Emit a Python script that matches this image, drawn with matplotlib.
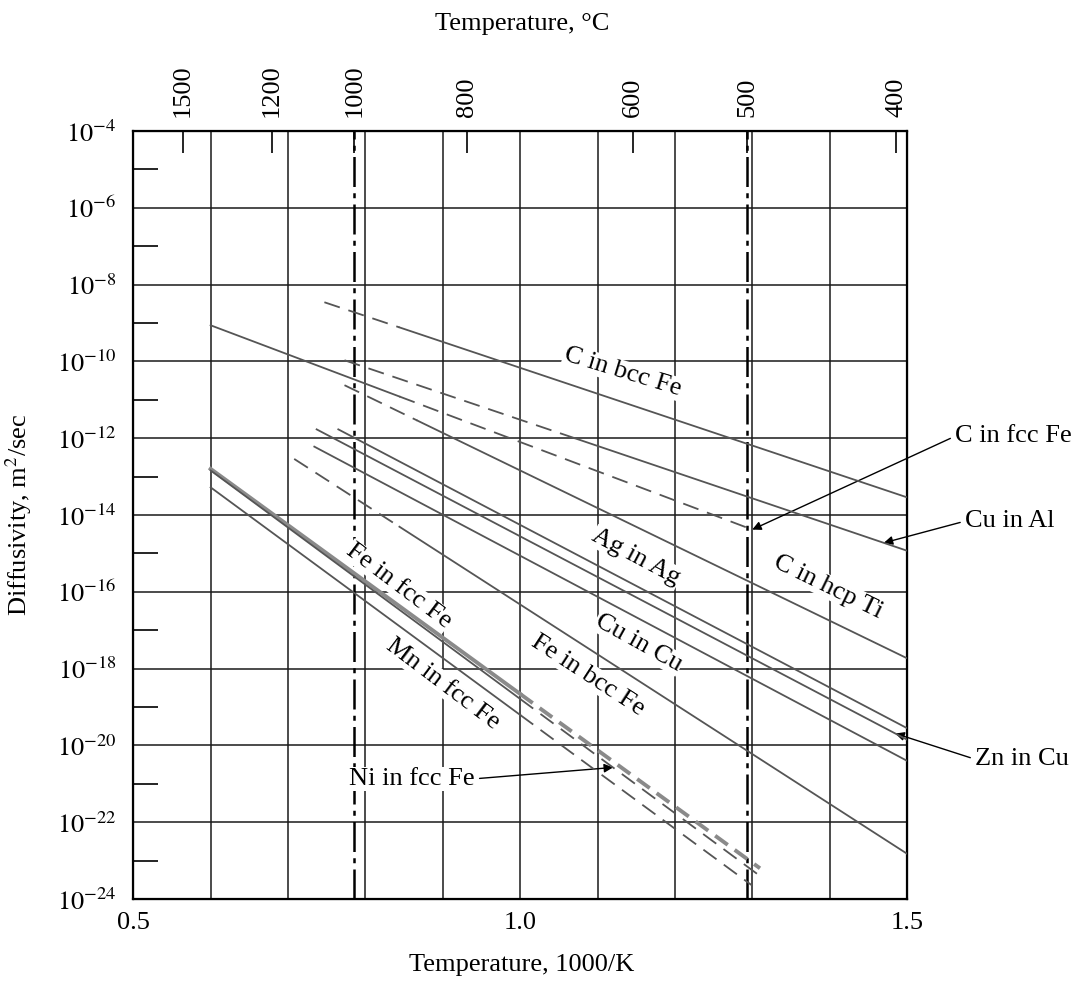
import numpy as np
import matplotlib
matplotlib.use("Agg")
import matplotlib.pyplot as plt
from matplotlib.ticker import NullFormatter

plt.rcParams['font.family'] = ['Liberation Serif', 'DejaVu Serif']
plt.rcParams['mathtext.fontset'] = 'stix'

# Arrhenius lines, log10(D [m^2/s]) against 1000/T
systems = ['C in bcc Fe', 'C in fcc Fe', 'Cu in Al', 'C in hcp Ti', 'Ag in Ag', 'Zn in Cu',
           'Cu in Cu', 'Fe in bcc Fe', 'Fe in fcc Fe', 'Ni in fcc Fe', 'Mn in fcc Fe']
x_start = [0.747, 0.600, 0.773, 0.773, 0.765, 0.737, 0.734, 0.708, 0.600, 0.600, 0.600]
log_d_start = [-8.46, -9.06, -9.97, -10.62, -11.77, -11.77, -12.22, -12.54, -12.80, -12.84, -13.28]
x_end = [1.50, 1.30, 1.50, 1.50, 1.50, 1.50, 1.50, 1.50, 1.31, 1.31, 1.30]
log_d_end = [-13.54, -14.38, -14.93, -17.73, -19.55, -19.85, -20.40, -22.82, -23.20, -23.40, -23.65]
# where the line switches between dashed and solid (phase limits)
x_switch = [0.844, 0.844, 1.071, 0.867, None, None, None, 0.844, 1.0, 1.0, 1.0]
dashed_first = [True, False, True, True, False, False, False, True, False, False, False]

# labels written along the lines
label_text = ['C in bcc Fe', 'C in hcp Ti', 'Ag in Ag', 'Cu in Cu', 'Fe in bcc Fe', 'Fe in fcc Fe', 'Mn in fcc Fe']
label_x = [1.132, 1.398, 1.150, 1.153, 1.088, 0.843, 0.900]
label_log_d = [-10.28, -15.87, -15.10, -17.33, -18.17, -15.84, -18.40]
label_rot = [-17, -26, -28, -29, -33, -37, -37]

# labels with arrows: (system, x of arrow tip, text x, text log10 D)
arrow_system = ['C in fcc Fe', 'Cu in Al', 'Zn in Cu', 'Ni in fcc Fe']
arrow_tip_x = [1.30, 1.47, 1.485, 1.12]
arrow_text_x = [1.562, 1.575, 1.588, 0.86]
arrow_text_log_d = [-11.95, -14.16, -20.36, -20.87]

celsius_ticks = [1500, 1200, 1000, 800, 600, 500, 400]
marked_celsius = [1000, 500]


def log_d_at(i, x):
    return np.interp(x, [x_start[i], x_end[i]], [log_d_start[i], log_d_end[i]])


fig = plt.figure(figsize=(10.87, 9.9), dpi=100)
ax = fig.add_axes([0.1226, 0.0919, 0.7118, 0.7758])
ax.set_yscale('log')
ax.set_xlim(0.5, 1.5)
ax.set_ylim(1e-24, 1e-4)

ax.set_xticks([0.5, 1.0, 1.5])
ax.set_xticklabels(['0.5', '1.0', '1.5'])
ax.set_xticks(np.arange(0.6, 1.45, 0.1), minor=True)
ax.set_yticks(10.0 ** np.arange(-24, -3, 2))
ax.set_yticklabels([r'$10^{%d}$' % e for e in range(-24, -3, 2)])
ax.set_yticks(10.0 ** np.arange(-23, -4, 2), minor=True)
ax.yaxis.set_minor_formatter(NullFormatter())

ax.set_axisbelow(True)
ax.grid(which='major', axis='y', color='#1a1a1a', lw=1.1)
ax.grid(which='both', axis='x', color='#1a1a1a', lw=1.1)
ax.tick_params(axis='x', which='both', length=0, pad=9, labelsize=19)
ax.tick_params(axis='y', which='major', length=0, pad=12, labelsize=19)
ax.tick_params(axis='y', which='minor', direction='in', length=18, width=1.2, left=True, right=False)
for s in ax.spines.values():
    s.set_linewidth(1.6)

for t in marked_celsius:
    ax.axvline(1000.0 / (t + 273), color='k', lw=1.8, linestyle=(0, (12, 2.5, 2, 2.5)), zorder=1.5)

for i, name in enumerate(systems):
    thick = name == 'Fe in fcc Fe'
    lw = 2.8 if thick else 1.3
    color = '#8a8a8a' if thick else '#555555'
    dash = (0, (4, 2.2)) if thick else (0, (9, 5))
    if x_switch[i] is None:
        pieces = [([x_start[i], x_end[i]], False)]
    else:
        pieces = [([x_start[i], x_switch[i]], dashed_first[i]),
                  ([x_switch[i], x_end[i]], not dashed_first[i])]
    for xs, dashed in pieces:
        ys = 10.0 ** log_d_at(i, np.array(xs))
        ax.plot(xs, ys, color=color, lw=lw, linestyle=dash if dashed else '-', zorder=3)

for txt, x, ld, rot in zip(label_text, label_x, label_log_d, label_rot):
    ax.text(x, 10.0 ** ld, txt, fontsize=19, rotation=rot, rotation_mode='anchor',
            ha='center', va='center', zorder=2.5,
            bbox=dict(facecolor='white', edgecolor='none', pad=0.5))

for name, tip_x, tx, tld in zip(arrow_system, arrow_tip_x, arrow_text_x, arrow_text_log_d):
    i = systems.index(name)
    inside = tx < 1.5
    ax.annotate(name, xy=(tip_x, 10.0 ** log_d_at(i, tip_x)), xytext=(tx, 10.0 ** tld),
                fontsize=19, ha='center' if inside else 'left', va='center',
                annotation_clip=False, zorder=2.5,
                bbox=dict(facecolor='white', edgecolor='none', pad=0.5),
                arrowprops=dict(arrowstyle='-|>', color='k', lw=1.0, mutation_scale=13,
                                shrinkA=3, shrinkB=0, relpos=(1, 0.5) if inside else (0, 0.5)))

ax_top = ax.twiny()
ax_top.set_xlim(0.5, 1.5)
ax_top.set_xticks([1000.0 / (t + 273) for t in celsius_ticks])
ax_top.set_xticklabels([str(t) for t in celsius_ticks], rotation=90)
ax_top.tick_params(axis='x', direction='in', length=16, width=1.2, pad=10, labelsize=19)

fig.text(0.48, 0.976, 'Temperature, °C', ha='center', va='center', fontsize=19)
fig.text(0.48, 0.025, 'Temperature, 1000/K', ha='center', va='center', fontsize=19)
fig.text(0.017, 0.48, 'Diffusivity, m$^2$/sec', ha='center', va='center', fontsize=19, rotation=90)

fig.savefig('out.png', dpi=100)
